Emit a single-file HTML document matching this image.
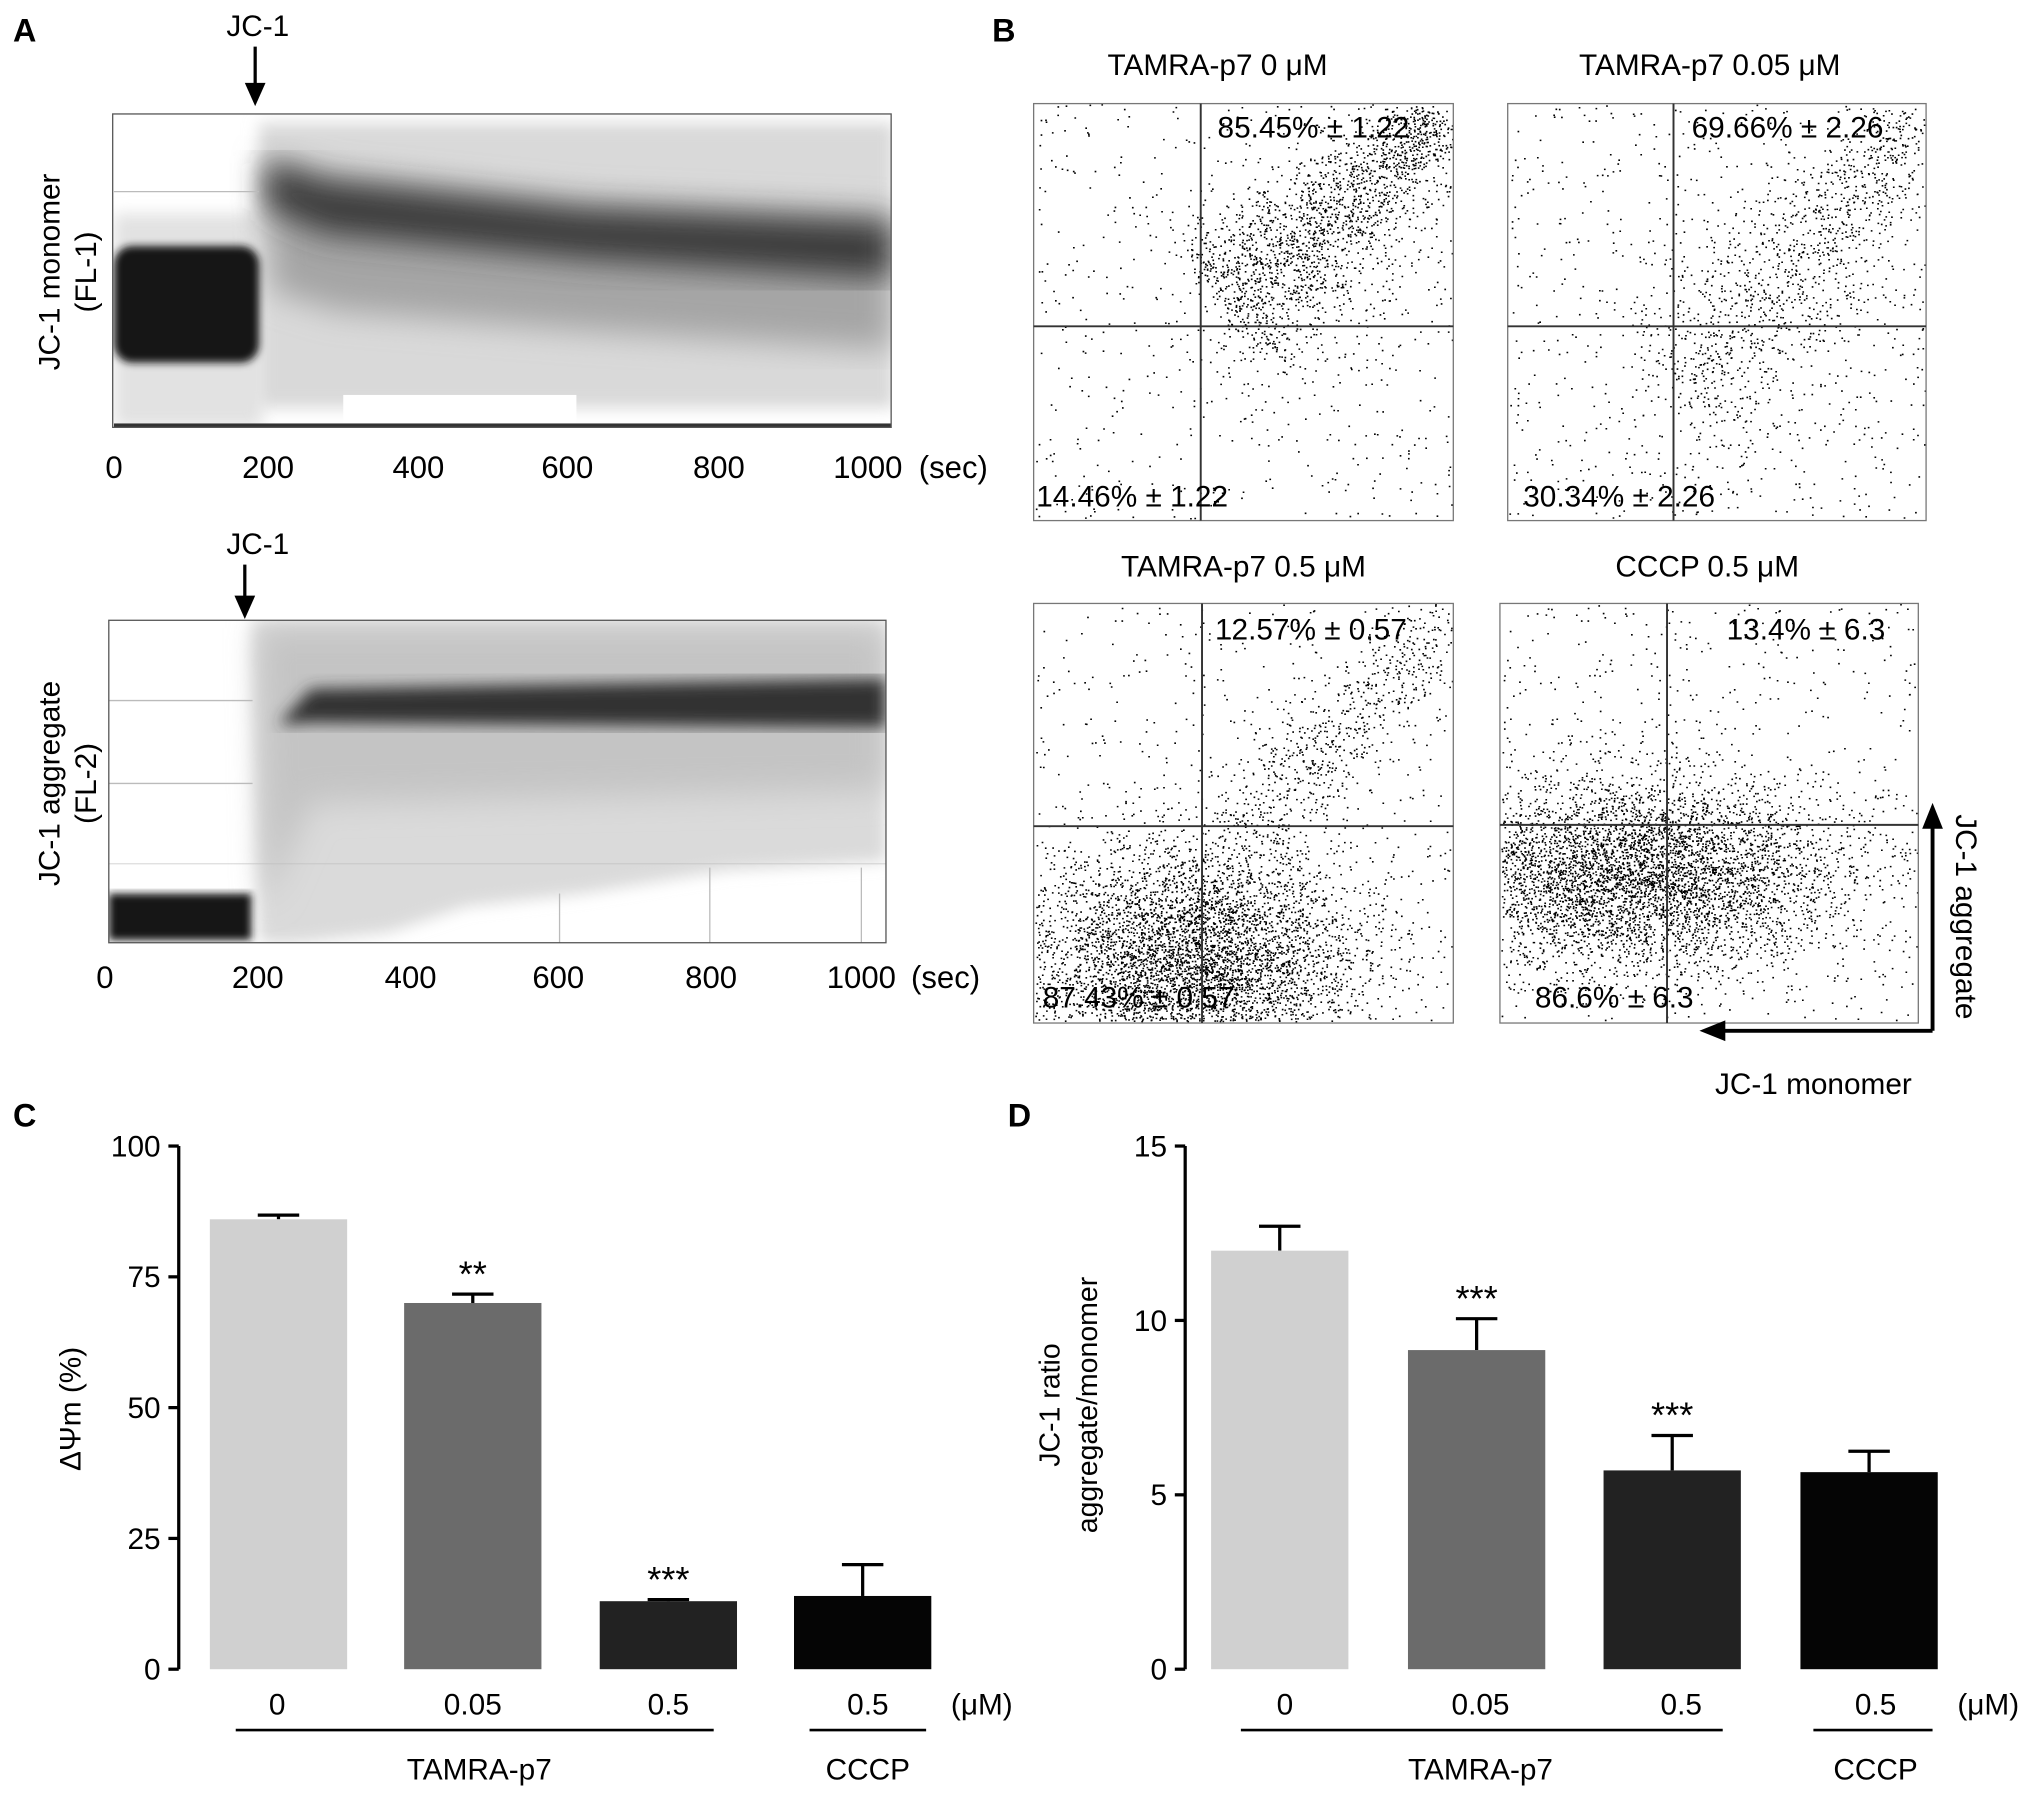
<!DOCTYPE html>
<html><head><meta charset="utf-8">
<style>
html,body{margin:0;padding:0;background:#fff;}
svg{display:block;font-family:"Liberation Sans",Arial,sans-serif;}
</style></head>
<body>
<svg id="fig" width="2031" height="1800" viewBox="0 0 1568 1390" preserveAspectRatio="none" xmlns="http://www.w3.org/2000/svg">
<defs>
<filter id="blur6"><feGaussianBlur stdDeviation="6"/></filter>
<filter id="blur10"><feGaussianBlur stdDeviation="12"/></filter>
<filter id="blur3"><feGaussianBlur stdDeviation="3"/></filter>
<clipPath id="clipA1"><rect x="87" y="88" width="601" height="242"/></clipPath>
<clipPath id="clipA2"><rect x="84" y="479" width="600" height="249"/></clipPath>
</defs>

<text x="10" y="32" font-size="25" font-weight="bold">A</text>
<text x="766" y="32" font-size="25" font-weight="bold">B</text>
<text x="10" y="870" font-size="25" font-weight="bold">C</text>
<text x="778" y="870" font-size="25" font-weight="bold">D</text>

<g>
<g clip-path="url(#clipA1)">
<rect x="87" y="88" width="601" height="242" fill="#fff"/>
<rect x="88" y="165" width="115" height="165" fill="#e2e2e2" filter="url(#blur6)"/>
<rect x="200" y="95" width="490" height="220" fill="#d9d9d9" filter="url(#blur6)"/>
<rect x="265" y="305" width="180" height="25" fill="#fff"/>
<path d="M205 120 L260 135 L450 155 L688 165 L688 270 L450 255 L260 240 L210 225 Z" fill="#a5a5a5" filter="url(#blur10)"/>
<path d="M206 125 L250 140 L450 162 L688 172 L688 215 L450 200 L250 180 L206 160 Z" fill="#3a3a3a" filter="url(#blur10)"/>
<rect x="88" y="190" width="112" height="90" rx="14" fill="#151515" filter="url(#blur3)"/>
<rect x="88" y="327" width="600" height="3" fill="#333"/>
</g>
<line x1="88" y1="148" x2="200" y2="148" stroke="#bbb"/>
<rect x="87" y="88" width="601" height="242" fill="none" stroke="#555" stroke-width="1"/>
</g>
<g font-size="24" text-anchor="middle">
<text x="88" y="369">0</text><text x="207" y="369">200</text><text x="323" y="369">400</text>
<text x="438" y="369">600</text><text x="555" y="369">800</text><text x="670" y="369">1000</text>
<text x="736" y="369">(sec)</text>
</g>
<text transform="translate(46,210) rotate(-90)" font-size="23" text-anchor="middle"><tspan x="0" y="0">JC-1 monomer</tspan><tspan x="0" y="28">(FL-1)</tspan></text>
<g>
<text x="199" y="28" font-size="23" text-anchor="middle">JC-1</text>
<line x1="197" y1="36" x2="197" y2="68" stroke="#000" stroke-width="2.5"/>
<path d="M189 64 L205 64 L197 82 Z" fill="#000"/>
</g>

<g>
<g clip-path="url(#clipA2)">
<rect x="84" y="479" width="600" height="249" fill="#fff"/>
<path d="M195 479 L684 479 L684 665 L560 672 L450 690 L360 700 L300 720 L230 728 L200 728 Z" fill="#dadada" filter="url(#blur6)"/>
<path d="M200 485 L684 485 L684 610 L240 620 L205 700 Z" fill="#c4c4c4" filter="url(#blur10)"/>
<path d="M215 560 L240 532 L684 524 L684 562 L240 558 Z" fill="#333" filter="url(#blur6)"/>
<rect x="84" y="690" width="110" height="36" fill="#141414" filter="url(#blur3)"/>
</g>
<g stroke="#bbb"><line x1="84" y1="541" x2="195" y2="541"/><line x1="84" y1="605" x2="195" y2="605"/><line x1="84" y1="667" x2="684" y2="667" stroke-opacity="0.5"/>
<line x1="432" y1="690" x2="432" y2="728"/><line x1="548" y1="670" x2="548" y2="728"/><line x1="665" y1="670" x2="665" y2="728"/></g>
<rect x="84" y="479" width="600" height="249" fill="none" stroke="#555" stroke-width="1"/>
</g>
<g font-size="24" text-anchor="middle">
<text x="81" y="763">0</text><text x="199" y="763">200</text><text x="317" y="763">400</text>
<text x="431" y="763">600</text><text x="549" y="763">800</text><text x="665" y="763">1000</text>
<text x="730" y="763">(sec)</text>
</g>
<text transform="translate(46,605) rotate(-90)" font-size="23" text-anchor="middle"><tspan x="0" y="0">JC-1 aggregate</tspan><tspan x="0" y="28">(FL-2)</tspan></text>
<g>
<text x="199" y="428" font-size="23" text-anchor="middle">JC-1</text>
<line x1="189" y1="436" x2="189" y2="464" stroke="#000" stroke-width="2.5"/>
<path d="M181 460 L197 460 L189 478 Z" fill="#000"/>
</g>

<g id="scatters"></g>
<g font-size="23">
<text x="940" y="58" text-anchor="middle">TAMRA-p7 0 μM</text>
<text x="1320" y="58" text-anchor="middle">TAMRA-p7 0.05 μM</text>
<text x="960" y="445" text-anchor="middle">TAMRA-p7 0.5 μM</text>
<text x="1318" y="445" text-anchor="middle">CCCP 0.5 μM</text>
<text x="940" y="106">85.45% ± 1.22</text>
<text x="1306" y="106">69.66% ± 2.26</text>
<text x="800" y="391">14.46%  ± 1.22</text>
<text x="1176" y="391">30.34% ± 2.26</text>
<text x="938" y="494">12.57% ± 0.57</text>
<text x="1333" y="494">13.4% ± 6.3</text>
<text x="805" y="778">87.43% ± 0.57</text>
<text x="1185" y="778">86.6% ± 6.3</text>
</g>
<g>
<line x1="1492" y1="796" x2="1492" y2="636" stroke="#000" stroke-width="3"/>
<path d="M1484 640 L1500 640 L1492 620 Z" fill="#000"/>
<line x1="1492" y1="796" x2="1328" y2="796" stroke="#000" stroke-width="3"/>
<path d="M1332 788 L1332 804 L1312 796 Z" fill="#000"/>
<text transform="translate(1510,708) rotate(90)" font-size="23" text-anchor="middle">JC-1 aggregate</text>
<text x="1400" y="845" font-size="23" text-anchor="middle">JC-1 monomer</text>
</g>

<g id="chartC"></g>
<g id="chartD"></g>
</svg>

<script>
const catsC = ["0","0.05","0.5","0.5"];
const valsC = [86, 70, 13, 14];
const errsC = [0.8, 1.7, 0.3, 6];
const starsC = ["", "**", "***", ""];
const ticksC = [0,25,50,75,100];
const catsD = ["0","0.05","0.5","0.5"];
const valsD = [12, 9.15, 5.7, 5.65];
const errsD = [0.7, 0.9, 1.0, 0.6];
const starsD = ["", "***", "***", ""];
const ticksD = [0,5,10,15];
const barColors = ["#d0d0d0","#6b6b6b","#222222","#050505"];

const NS="http://www.w3.org/2000/svg";
function mk(tag, attrs, parent){const e=document.createElementNS(NS,tag);for(const k in attrs)e.setAttribute(k,attrs[k]);parent.appendChild(e);return e;}

function drawBar(g, cfg){
  const {cats, vals, errs, stars, ticks, ymax, axisX, y0, y1, barX, barW, labelX, unitX, lines, names, ytitle} = cfg;
  const ys = v => y0 - (v/ymax)*(y0-y1);
  const ax = mk('line',{x1:axisX,y1:y1,x2:axisX,y2:y0,stroke:'#000','stroke-width':2.5},g);
  
  
  ticks.forEach(t=>{
    const y=ys(t);
    const tl=mk('line',{x1:axisX-8,y1:y,x2:axisX,y2:y,stroke:'#000','stroke-width':2.5},g);
    
    
    const tx=mk('text',{x:axisX-14,y:y+8,'font-size':23,'text-anchor':'end'},g);
    tx.textContent=t;
    
    
  });
  vals.forEach((v,i)=>{
    const x=barX[i], top=ys(v), ey=ys(v+errs[i]);
    const el=mk('line',{x1:x+barW/2,y1:top,x2:x+barW/2,y2:ey,stroke:'#000','stroke-width':2.5},g);
    
    
    const ec=mk('line',{x1:x+barW/2-16,y1:ey,x2:x+barW/2+16,y2:ey,stroke:'#000','stroke-width':2.5},g);
    
    
    const r=mk('rect',{x:x,y:top,width:barW,height:y0-top,fill:barColors[i]},g);
    
    
    if(stars[i]){
      const s=mk('text',{x:x+barW/2,y:ey-6,'font-size':28,'text-anchor':'middle'},g);
      s.textContent=stars[i];
      
      
    }
    const lb=mk('text',{x:labelX[i],y:1324,'font-size':23,'text-anchor':'middle'},g);
    lb.textContent=cats[i];
    
    
  });
  const u=mk('text',{x:unitX,y:1324,'font-size':23,'text-anchor':'middle'},g);
  u.textContent='(μM)';
  
  
  lines.forEach(L=>{
    const l=mk('line',{x1:L[0],y1:1336,x2:L[1],y2:1336,stroke:'#000','stroke-width':2},g);
    
    
    const t=mk('text',{x:L[2],y:1374,'font-size':23,'text-anchor':'middle'},g);
    t.textContent=L[3];
    
    
  });
  ytitle(g);
}

drawBar(document.getElementById('chartC'),{
  cats:catsC, vals:valsC, errs:errsC, stars:starsC, ticks:ticksC, ymax:100,
  axisX:138, y0:1289, y1:885, barX:[162,312,463,613], barW:106,
  labelX:[214,365,516,670], unitX:758,
  lines:[[182,551,370,'TAMRA-p7'],[625,715,670,'CCCP']],
  names:['0','0-05','0-5','cccp'],
  ytitle:g=>{const t=mk('text',{transform:'translate(62,1088) rotate(-90)','font-size':23,'text-anchor':'middle'},g);t.textContent='ΔΨm (%)';
    
    }
});
drawBar(document.getElementById('chartD'),{
  cats:catsD, vals:valsD, errs:errsD, stars:starsD, ticks:ticksD, ymax:15,
  axisX:915, y0:1289, y1:885, barX:[935,1087,1238,1390], barW:106,
  labelX:[992,1143,1298,1448], unitX:1535,
  lines:[[958,1330,1143,'TAMRA-p7'],[1400,1492,1448,'CCCP']],
  names:['0','0-05','0-5','cccp'],
  ytitle:g=>{const t=mk('text',{transform:'translate(818,1085) rotate(-90)','font-size':22,'text-anchor':'middle'},g);
    t.innerHTML='<tspan x="0" y="0">JC-1 ratio</tspan><tspan x="0" y="29">aggregate/monomer</tspan>';
    
    }
});

let seed=12345;
function rnd(){seed=(seed*1103515245+12345)&0x7fffffff;return seed/0x7fffffff;}
function gauss(){let u=rnd()||1e-6,v=rnd();return Math.sqrt(-2*Math.log(u))*Math.cos(2*Math.PI*v);}
const SG=document.getElementById('scatters');
const boxes=[
 {x:798,y:80,w:324,h:322,cx:927,cy:252,type:'diag',a:[945,235],b:[1112,88],spread:26,n:9000,bg:600,low:0.15},
 {x:1164,y:80,w:323,h:322,cx:1292,cy:252,type:'diag',a:[1295,290],b:[1480,88],spread:26,n:9000,bg:700,low:0.35},
 {x:798,y:466,w:324,h:324,cx:928,cy:638,type:'blob',c:[920,730],sx:65,sy:45,n:8000,bg:500,tail:[[960,640],[1118,480],700]},
 {x:1158,y:466,w:323,h:324,cx:1287,cy:637,type:'blob',c:[1262,665],sx:80,sy:36,n:8500,bg:700,tail:null}
];
boxes.forEach((B,bi)=>{
  const g=mk('g',{},SG);
  
  
  let d='';
  const add=(x,y)=>{if(x>B.x+1&&x<B.x+B.w-1&&y>B.y+1&&y<B.y+B.h-1)d+='M'+x.toFixed(1)+' '+y.toFixed(1)+'h1.3';};
  for(let i=0;i<B.n;i++){
    if(B.type==='diag'){
      const t=Math.pow(rnd(),1.1);
      const dx=B.b[0]-B.a[0],dy=B.b[1]-B.a[1],L=Math.hypot(dx,dy);
      const s=B.spread*(1.3-0.8*t)*gauss();
      let y=B.a[1]+dy*t+(dx/L)*s+gauss()*5;
      if(rnd()<B.low) y+=Math.abs(gauss())*60;
      add(B.a[0]+dx*t+(-dy/L)*s+gauss()*5, y);
    } else {
      add(B.c[0]+gauss()*B.sx, B.c[1]+gauss()*B.sy+Math.abs(gauss())*12);
    }
  }
  if(B.tail){for(let i=0;i<B.tail[2];i++){const t=rnd();add(B.tail[0][0]+(B.tail[1][0]-B.tail[0][0])*t+gauss()*20,B.tail[0][1]+(B.tail[1][1]-B.tail[0][1])*t+gauss()*20);}}
  for(let i=0;i<B.bg;i++){add(B.x+rnd()*B.w,B.y+rnd()*B.h);}
  mk('path',{d:d,stroke:'#000','stroke-width':1.2,fill:'none'},g);
  mk('rect',{x:B.x,y:B.y,width:B.w,height:B.h,fill:'none',stroke:'#777','stroke-width':1},g);
  mk('line',{x1:B.cx,y1:B.y,x2:B.cx,y2:B.y+B.h,stroke:'#333','stroke-width':1.5},g);
  mk('line',{x1:B.x,y1:B.cy,x2:B.x+B.w,y2:B.cy,stroke:'#333','stroke-width':1.5},g);
});
</script>
</body></html>
